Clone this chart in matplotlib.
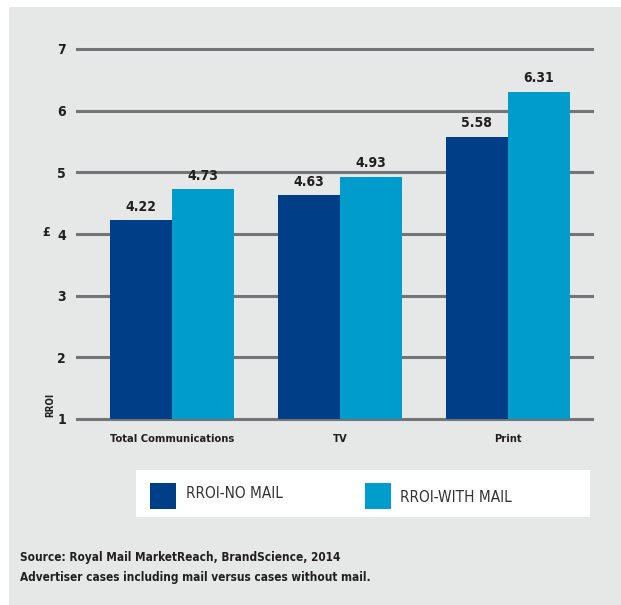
import matplotlib.pyplot as plt
import matplotlib.patches as mpatches
import numpy as np

# chart data
categories = ['Total Communications', 'TV', 'Print']
no_mail = [4.22, 4.63, 5.58]
with_mail = [4.73, 4.93, 6.31]
y_ticks = [1, 2, 3, 4, 5, 6, 7]

DARK = '#003f87'
LIGHT = '#009ccb'
PANEL = '#e6e7e7'
GRID = '#737477'
TEXT = '#231f20'
NARROW = dict(family=['Liberation Sans Narrow', 'DejaVu Sans'], stretch='condensed')

fig = plt.figure(figsize=(6.21, 6.05), dpi=100)
fig.patch.set_facecolor('white')

# gray panel behind everything
fig.patches.append(mpatches.Rectangle((9 / 621, 0), 1, 1 - 7 / 605,
                                      transform=fig.transFigure,
                                      facecolor=PANEL, edgecolor='none', zorder=-5))

ax = fig.add_axes([77 / 621, 1 - 419 / 605, (592 - 77) / 621, (419 - 49) / 605])
ax.set_facecolor('none')
ax.set_zorder(2)

x = np.arange(len(categories))
w = 0.37
b1 = ax.bar(x - w / 2, np.array(no_mail) - 1, w, bottom=1, color=DARK, zorder=3)
b2 = ax.bar(x + w / 2, np.array(with_mail) - 1, w, bottom=1, color=LIGHT, zorder=3)

for bars, vals in ((b1, no_mail), (b2, with_mail)):
    for rect, v in zip(bars, vals):
        ax.text(rect.get_x() + rect.get_width() / 2, v + 0.1, f'{v:.2f}',
                ha='center', va='bottom', fontsize=10, fontweight='bold',
                color=TEXT, **NARROW)

for t in y_ticks:
    ax.axhline(t, color=GRID, lw=2.2, zorder=1, clip_on=False)

ax.set_ylim(1, 7)
ax.set_xlim(-0.565, 2.5)
ax.set_yticks(y_ticks)
ax.set_yticklabels([str(t) for t in y_ticks], fontweight='bold', fontsize=10,
                   color=TEXT, **NARROW)
ax.set_xticks(x)
ax.set_xticklabels(categories, fontweight='bold', fontsize=8, color=TEXT, **NARROW)
ax.tick_params(length=0, axis='y', pad=8)
ax.tick_params(length=0, axis='x', pad=11)
for s in ax.spines.values():
    s.set_visible(False)

# axis label pieces
fig.text(50 / 621, 1 - 405 / 605, 'RROI', rotation=90, ha='center', va='center',
         fontsize=7, fontweight='bold', color=TEXT, **NARROW)
fig.text(46 / 621, 1 - 233 / 605, '£', ha='center', va='center',
         fontsize=9, fontweight='bold', color=TEXT, **NARROW)

# legend box
fig.patches.append(mpatches.Rectangle((136 / 621, 1 - 517 / 605), (590 - 136) / 621,
                                      47 / 605, transform=fig.transFigure,
                                      facecolor='white', edgecolor='none', zorder=1))
fig.patches.append(mpatches.Rectangle((150 / 621, 1 - 509 / 605), 26 / 621, 26 / 605,
                                      transform=fig.transFigure,
                                      facecolor=DARK, edgecolor='none', zorder=2))
fig.patches.append(mpatches.Rectangle((365 / 621, 1 - 509 / 605), 26 / 621, 26 / 605,
                                      transform=fig.transFigure,
                                      facecolor=LIGHT, edgecolor='none', zorder=2))
fig.text(186 / 621, 1 - 494 / 605, 'RROI-NO MAIL', ha='left', va='center',
         fontsize=11, color='#333333', **NARROW)
fig.text(400 / 621, 1 - 497 / 605, 'RROI-WITH MAIL', ha='left', va='center',
         fontsize=11, color='#333333', **NARROW)

# source notes
fig.text(20 / 621, 1 - 557 / 605, 'Source: Royal Mail MarketReach, BrandScience, 2014',
         ha='left', va='center', fontsize=8.5, fontweight='bold', color=TEXT, **NARROW)
fig.text(20 / 621, 1 - 578 / 605, 'Advertiser cases including mail versus cases without mail.',
         ha='left', va='center', fontsize=8.5, fontweight='bold', color=TEXT, **NARROW)

fig.savefig('out.png', dpi=100, facecolor=fig.get_facecolor())
